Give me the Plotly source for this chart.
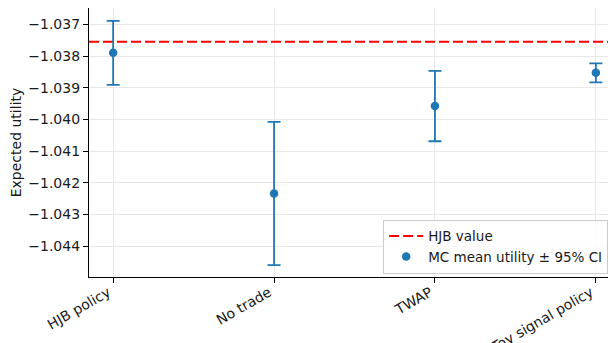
import plotly.graph_objects as go

categories = ["HJB policy", "No trade", "TWAP", "Toy signal policy"]
mc_mean = [-1.03790, -1.04234, -1.03958, -1.03853]
ci_half = [0.00101, 0.00226, 0.00111, 0.00030]
hjb_value = -1.03755
y_ticks = [-1.037, -1.038, -1.039, -1.040, -1.041, -1.042, -1.043, -1.044]

x_idx = list(range(len(categories)))
x_range = [-0.15, 3.15]
y_range = [-1.044975, -1.036484]

fig = go.Figure()
fig.add_trace(go.Scatter(
    x=x_range, y=[hjb_value, hjb_value], mode="lines",
    line=dict(color="red", width=2, dash="10px,4px"),
    name="HJB value",
))
fig.add_trace(go.Scatter(
    x=x_idx, y=mc_mean, mode="markers",
    marker=dict(color="#1f77b4", size=8.5),
    error_y=dict(type="data", array=ci_half, color="#1f77b4", thickness=1.8, width=6.5),
    name="MC mean utility ± 95% CI",
))

# page body adds an 8px offset, so margins are shifted accordingly
fig.update_layout(
    width=616, height=343,
    margin=dict(l=81, r=4, t=0, b=74),
    paper_bgcolor="white", plot_bgcolor="white",
    font=dict(family="DejaVu Sans", size=14, color="#1a1a1a"),
    legend=dict(
        x=0.554, y=0.012, xanchor="left", yanchor="bottom",
        bordercolor="#cccccc", borderwidth=1, bgcolor="rgba(255,255,255,0.8)",
        font=dict(size=13.5), tracegroupgap=0, itemwidth=34,
    ),
    showlegend=True,
)
fig.update_xaxes(
    range=x_range, tickmode="array", tickvals=x_idx, ticktext=categories,
    tickangle=-30, showgrid=True, gridcolor="#e8e8e8", gridwidth=1,
    showline=True, linecolor="black", linewidth=1.2, mirror=True,
    ticks="outside", ticklen=5, tickcolor="black", zeroline=False,
    automargin=False, ticklabelshift=-5, ticklabelstandoff=-4,
)
fig.update_yaxes(
    range=y_range, tickmode="array", tickvals=y_ticks,
    ticktext=[f"\u2212{abs(v):.3f}" for v in y_ticks],
    showgrid=True, gridcolor="#e8e8e8", gridwidth=1,
    showline=True, linecolor="black", linewidth=1.2,
    ticks="outside", ticklen=5, tickcolor="black", zeroline=False,
    automargin=False,
    title=dict(text="Expected utility", font=dict(size=14)),
)

fig.write_html("out.html")
